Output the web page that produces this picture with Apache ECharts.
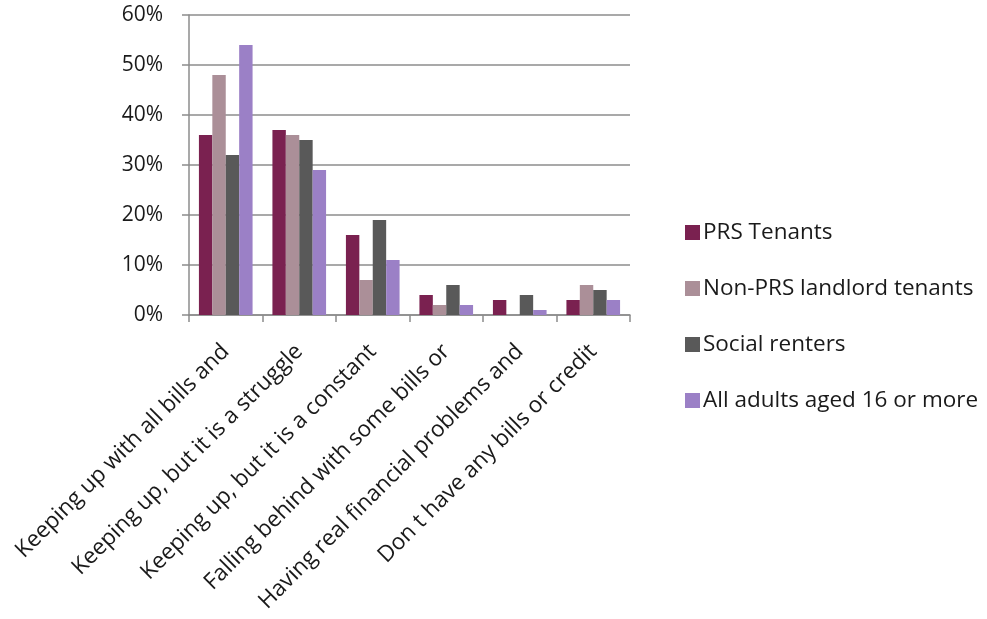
<!DOCTYPE html>
<html>
<head>
<meta charset="utf-8">
<script src="https://cdn.jsdelivr.net/npm/echarts@6/dist/echarts.min.js"></script>
<style>
  html, body { margin: 0; padding: 0; background: #fff; }
  #chart { width: 987px; height: 619px; }
</style>
</head>
<body>
<div id="chart"></div>
<script>
const categories = [
  'Keeping up with all bills and',
  'Keeping up, but it is a struggle',
  'Keeping up, but it is a constant',
  'Falling behind with some bills or',
  'Having real financial problems and',
  'Don t have any bills or credit',
]
const prsTenants = [36, 37, 16, 4, 3, 3]
const nonPrsTenants = [48, 36, 7, 2, 0, 6]
const socialRenters = [32, 35, 19, 6, 4, 5]
const allAdults = [54, 29, 11, 2, 1, 3]

const seriesNames = ['PRS Tenants', 'Non-PRS landlord tenants', 'Social renters', 'All adults aged 16 or more']
const colors = ['#7a2150', '#ab8f98', '#595959', '#9b80c6']
const seriesData = [prsTenants, nonPrsTenants, socialRenters, allAdults]

const FONT = '"Open Sans"'
const chart = echarts.init(document.getElementById('chart'))

chart.setOption({
  animation: false,
  color: colors,
  textStyle: { fontFamily: FONT },
  grid: {
    left: 189,
    right: 357,
    top: 15,
    bottom: 304,
  },
  legend: {
    orient: 'vertical',
    left: 680,
    top: 216,
    itemWidth: 15,
    itemHeight: 15,
    itemGap: 33,
    icon: 'rect',
    textStyle: {
      fontFamily: FONT,
      fontSize: 22.5,
      lineHeight: 20,
      color: '#1a1a1a',
      padding: [0, 0, 0, -2],
    },
    data: seriesNames,
  },
  xAxis: {
    type: 'category',
    data: categories,
    axisLine: { lineStyle: { color: '#8c8c8c', width: 1.5 } },
    axisTick: { show: true, length: 7, lineStyle: { color: '#8c8c8c', width: 1.5 } },
    axisLabel: {
      rotate: 45,
      interval: 0,
      margin: 33,
      fontFamily: FONT,
      fontSize: 22.5,
      color: '#1a1a1a',
    },
  },
  yAxis: {
    type: 'value',
    min: 0,
    max: 60,
    interval: 10,
    axisLine: { show: true, lineStyle: { color: '#8c8c8c', width: 1.5 } },
    axisTick: { show: true, length: 7, lineStyle: { color: '#8c8c8c', width: 1.5 } },
    splitLine: { lineStyle: { color: '#8c8c8c', width: 1.5 } },
    axisLabel: {
      formatter: '{value}%',
      margin: 26,
      fontFamily: FONT,
      fontSize: 21,
      color: '#1a1a1a',
    },
  },
  series: seriesData.map((data, i) => ({
    type: 'bar',
    name: seriesNames[i],
    data: data,
    barGap: '0%',
    barCategoryGap: '27%',
    itemStyle: { color: colors[i] },
  })),
})
</script>
</body>
</html>
